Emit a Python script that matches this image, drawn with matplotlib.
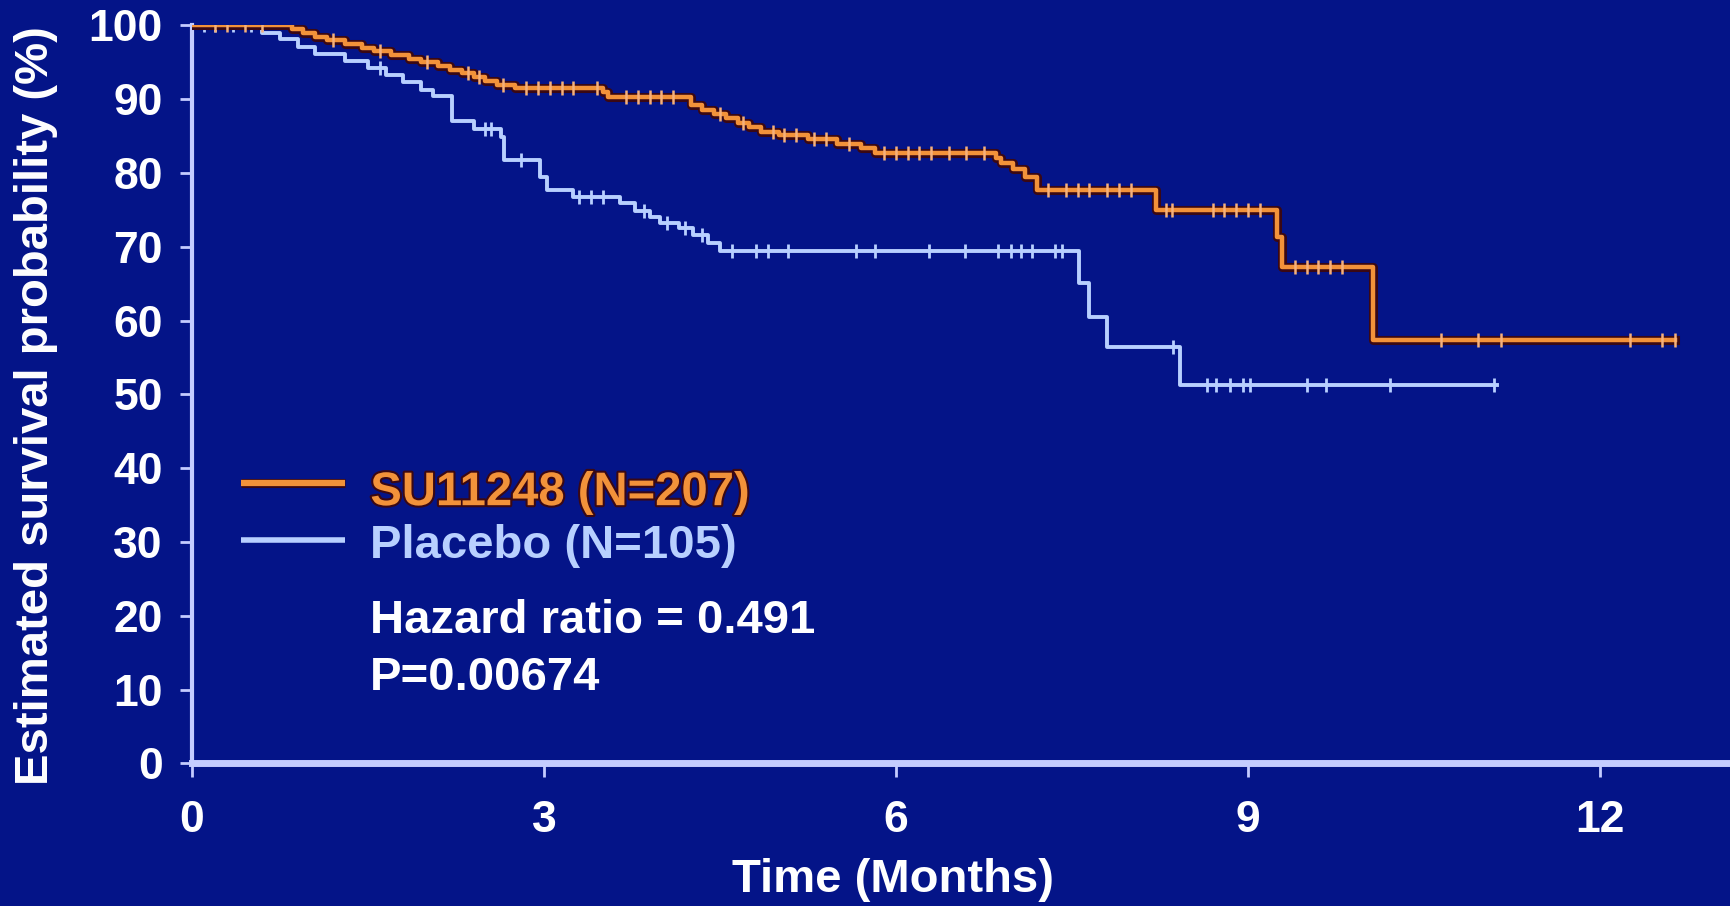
import numpy as np
import matplotlib.pyplot as plt
import matplotlib.patheffects as pe

# Kaplan-Meier steps: time of event (months) and survival (%) after it
su_times = [0.85, 0.95, 1.05, 1.15, 1.3, 1.45, 1.55, 1.7, 1.85, 1.95, 2.1, 2.2, 2.3,
            2.4, 2.5, 2.6, 2.75, 3.5, 3.55, 4.25, 4.35, 4.45, 4.55, 4.65, 4.75, 4.85,
            5.0, 5.25, 5.5, 5.7, 5.82, 6.85, 6.9, 7.0, 7.1, 7.2, 8.22, 9.25, 9.29, 10.07]
su_surv = [99.5, 99.0, 98.5, 98.0, 97.5, 97.0, 96.5, 96.0, 95.5, 95.0, 94.5, 94.0, 93.5,
           93.0, 92.5, 92.0, 91.5, 91.0, 90.3, 89.2, 88.5, 88.0, 87.4, 86.8, 86.2, 85.6,
           85.1, 84.6, 84.0, 83.4, 82.7, 82.0, 81.3, 80.6, 79.5, 77.7, 75.0, 71.4, 67.3, 57.4]
su_end = 12.64
su_censor = [0.2, 0.3, 0.45, 0.6, 1.2, 1.6, 2.0, 2.35, 2.45, 2.65, 2.85, 2.95, 3.05, 3.15,
             3.25, 3.45, 3.7, 3.8, 3.9, 4.0, 4.1, 4.5, 4.7, 4.95, 5.05, 5.15, 5.3, 5.4,
             5.6, 5.9, 6.0, 6.1, 6.2, 6.3, 6.45, 6.6, 6.75, 7.3, 7.45, 7.55, 7.65, 7.8,
             7.9, 8.0, 8.3, 8.35, 8.7, 8.8, 8.9, 9.0, 9.1, 9.4, 9.5, 9.6, 9.7, 9.8,
             10.65, 10.96, 11.16, 12.26, 12.53, 12.64]

pl_times = [0.6, 0.75, 0.9, 1.05, 1.3, 1.5, 1.65, 1.8, 1.95, 2.05, 2.22, 2.4, 2.63,
            2.66, 2.97, 3.03, 3.25, 3.65, 3.78, 3.9, 3.99, 4.15, 4.27, 4.4, 4.5,
            7.56, 7.65, 7.8, 8.42]
pl_surv = [99.0, 98.1, 97.1, 96.2, 95.2, 94.2, 93.3, 92.3, 91.3, 90.4, 87.0, 86.0, 84.9,
           81.8, 79.5, 77.7, 76.8, 75.9, 74.8, 74.0, 73.2, 72.5, 71.6, 70.5, 69.4,
           65.1, 60.5, 56.5, 51.3]
pl_end = 11.12
pl_censor = [0.1, 0.2, 0.35, 0.5, 1.6, 2.5, 2.55, 2.8, 3.3, 3.4, 3.5, 3.85, 4.05, 4.2,
             4.35, 4.6, 4.81, 4.91, 5.08, 5.66, 5.82, 6.28, 6.59, 6.87, 6.98, 7.07, 7.16,
             7.36, 7.42, 8.36, 8.65, 8.73, 8.85, 8.96, 9.02, 9.5, 9.67, 10.21, 11.1]

x_ticks = [0, 3, 6, 9, 12]
y_ticks = [0, 10, 20, 30, 40, 50, 60, 70, 80, 90, 100]

bg = '#041488'
axis_col = '#c4ccff'
orange = '#f2923a'
blue = '#b8d0ff'
dark = '#3a0814'

plt.rcParams['font.family'] = ['Liberation Sans', 'DejaVu Sans']
plt.rcParams['font.weight'] = 'bold'

fig = plt.figure(figsize=(17.3, 9.06), dpi=100, facecolor=bg)
ax = fig.add_axes([0.111, 0.1573, 0.889, 0.8146], facecolor=bg)


def km_xy(times, surv, end):
    x = np.concatenate([[0], times, [end]])
    y = np.concatenate([[100], surv, [surv[-1]]])
    return x, y


def censor_y(times, surv, c):
    idx = np.searchsorted(times, c, side='right')
    vals = np.concatenate([[100], surv])
    return vals[idx]


outline = [pe.Stroke(linewidth=6.5, foreground=dark), pe.Normal()]

x, y = km_xy(su_times, su_surv, su_end)
ax.step(x, y, where='post', color=orange, lw=3.2, path_effects=outline, zorder=4)
ax.plot(su_censor, censor_y(su_times, su_surv, su_censor), ls='none', marker='|',
        ms=10, mew=1.8, color='#f6b07a', zorder=5)

x, y = km_xy(pl_times, pl_surv, pl_end)
ax.step(x, y, where='post', color=blue, lw=2.8, zorder=3)
ax.plot(pl_censor, censor_y(pl_times, pl_surv, pl_censor), ls='none', marker='|',
        ms=10, mew=2, color=blue, zorder=3)

ax.set_xlim(0, 13.11)
ax.set_ylim(0, 100)
ax.set_xticks(x_ticks)
ax.set_yticks(y_ticks)
ax.tick_params(axis='x', colors=axis_col, labelcolor='white', length=10, width=2,
               labelsize=32, pad=16)
ax.tick_params(axis='y', colors=axis_col, labelcolor='white', length=9, width=2,
               labelsize=32, pad=12)
for lab in ax.get_xticklabels() + ax.get_yticklabels():
    lab.set_fontweight('bold')

for side in ['top', 'right']:
    ax.spines[side].set_visible(False)
ax.spines['left'].set_color(axis_col)
ax.spines['left'].set_linewidth(3)
ax.spines['bottom'].set_color(axis_col)
ax.spines['bottom'].set_linewidth(5)

ax.set_xlabel('Time (Months)', color='white', fontsize=34, fontweight='bold')
ax.xaxis.set_label_coords(0.456, -0.128)
ax.set_ylabel('Estimated survival probability (%)', color='white', fontsize=34,
              fontweight='bold')
ax.yaxis.set_label_coords(-0.087, 0.485)

# legend drawn by hand in data coordinates
ax.plot([0.42, 1.3], [38.0, 38.0], color=orange, lw=4.5, path_effects=outline,
        solid_capstyle='butt')
ax.plot([0.42, 1.3], [30.3, 30.3], color=blue, lw=4, solid_capstyle='butt')
ax.text(1.52, 35.0, 'SU11248 (N=207)', color=orange, fontsize=34, fontweight='bold',
        va='baseline', path_effects=[pe.withStroke(linewidth=3, foreground=dark)])
ax.text(1.52, 27.8, 'Placebo (N=105)', color=blue, fontsize=34, fontweight='bold',
        va='baseline')
ax.text(1.52, 17.7, 'Hazard ratio = 0.491', color='white', fontsize=34,
        fontweight='bold', va='baseline')
ax.text(1.52, 10.0, 'P=0.00674', color='white', fontsize=34, fontweight='bold',
        va='baseline')

fig.savefig('out.png', dpi=100, facecolor=bg)
